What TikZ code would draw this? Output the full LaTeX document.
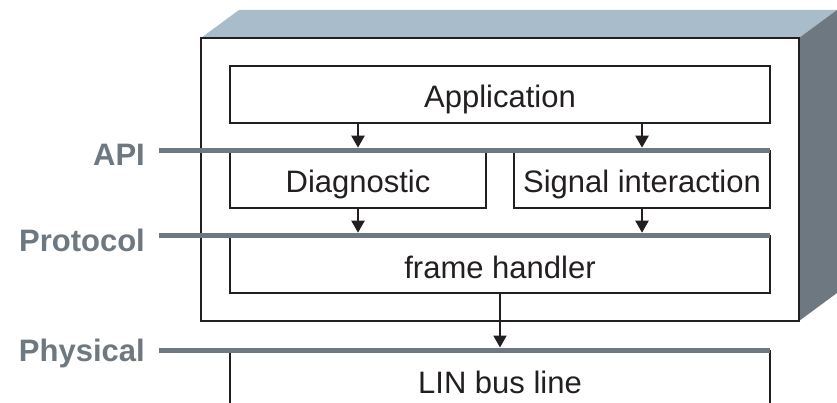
\documentclass[tikz,border=0pt]{standalone}
\usepackage{fontspec}
\setmainfont{Liberation Sans}
\usetikzlibrary{arrows.meta,positioning,calc}
\definecolor{lyrgray}{HTML}{6E7881}
\definecolor{topblue}{HTML}{A8BCCA}
\definecolor{ink}{HTML}{231F20}

\begin{document}
\begin{tikzpicture}[x=1pt,y=-1pt,
    box/.style={draw=ink, line width=1.6pt, minimum height=57pt, inner sep=0pt, text height=27pt, text depth=0pt, text=ink, font=\fontsize{31}{36}\selectfont},
    wide/.style={box, minimum width=540pt},
    half/.style={box, minimum width=256pt},
    layer/.style={draw=lyrgray, line width=5pt},
    lbl/.style={anchor=east, text=lyrgray, inner sep=0pt, font=\fontsize{31}{36}\selectfont\bfseries},
    arr/.style={-{Triangle[length=12pt,width=13pt]}, draw=ink, line width=2.2pt, shorten >=2.5pt}
]
\useasboundingbox (0,0) rectangle (837,403);

% housing
\fill[topblue] (201,38) -- (239,10) -- (837,10) -- (799,38) -- cycle;
\fill[lyrgray] (799,38) -- (837,10) -- (837,293) -- (799,321) -- cycle;
\draw[ink, fill=white, line width=2.4pt] (201,38) rectangle (799,321);

% boxes
\node[wide] (app) at (500,94.5) {Application};
\node[half] (diag) at (358,179.5) {Diagnostic};
\node[half] (sig) at (642,179.5) {Signal interaction};
\node[wide] (frame) at (500,264.5) {frame handler};
\node[anchor=base, text=ink, font=\fontsize{31}{36}\selectfont] (lin) at (500,393) {LIN bus line};
\draw[ink, line width=1.6pt] (230,350) -- (230,403);
\draw[ink, line width=1.6pt] (770,350) -- (770,403);

% layers
\coordinate (apiL) at (159,151);
\coordinate (apiR) at (770,151);
\coordinate (protL) at (159,236);
\coordinate (protR) at (770,236);
\coordinate (physL) at (159,350);
\coordinate (physR) at (770,350);
\coordinate (linTop) at (500,350);
\draw[layer] (apiL) -- (apiR);
\draw[layer] (protL) -- (protR);
\draw[layer] (physL) -- (physR);
\node[lbl] (api) at (145,155) {API};
\node[lbl] (prot) at (145,240) {Protocol};
\node[lbl] (phys) at (145,353) {Physical};

% arrows
\draw[arr] (app.south -| diag.north) -- (diag.north);
\draw[arr] (app.south -| sig.north) -- (sig.north);
\draw[arr] (diag.south) -- (diag.south |- frame.north);
\draw[arr] (sig.south) -- (sig.south |- frame.north);
\draw[arr] (frame.south) -- (linTop);
\end{tikzpicture}
\end{document}
